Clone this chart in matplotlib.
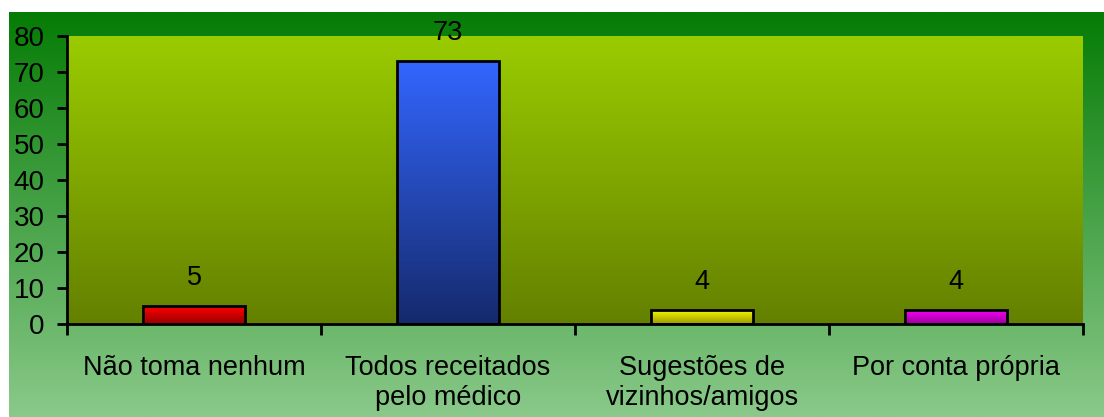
import numpy as np
import matplotlib
matplotlib.use("Agg")
import matplotlib.pyplot as plt
from matplotlib.colors import LinearSegmentedColormap

plt.rcParams['font.family'] = ['Liberation Sans', 'DejaVu Sans']

categories = ["Não toma nenhum", "Todos receitados\npelo médico",
              "Sugestões de\nvizinhos/amigos", "Por conta própria"]
values = [5, 73, 4, 4]
# (top colour, bottom colour) for each bar
bar_colors = [("#ff0000", "#990000"), ("#3366ff", "#152a6c"),
              ("#ffff00", "#999900"), ("#ff00ff", "#990099")]
yticks = [0, 10, 20, 30, 40, 50, 60, 70, 80]

W, H = 1104, 417
fig = plt.figure(figsize=(W / 100, H / 100), dpi=100)
fig.patch.set_facecolor("white")

def vgrad(top, bottom):
    return LinearSegmentedColormap.from_list("g", [bottom, top])

grad = np.linspace(0, 1, 256).reshape(-1, 1)

# green page background
bg = fig.add_axes([9 / W, 0, 1 - 9 / W, (H - 12) / H])
bg.imshow(grad, aspect="auto", cmap=vgrad("#057c05", "#8ac98a"),
          origin="lower", extent=[0, 1, 0, 1])
bg.set_axis_off()

# plot area
x0, x1, y0, y1 = 67, 1083, 36, 324
ax = fig.add_axes([x0 / W, 1 - y1 / H, (x1 - x0) / W, (y1 - y0) / H])
ax.imshow(grad, aspect="auto", cmap=vgrad("#9acc00", "#648000"),
          origin="lower", extent=[0, 1, 0, 1], transform=ax.transAxes,
          zorder=0)

x = np.arange(len(categories))
bars = ax.bar(x, values, width=0.4, facecolor="none", edgecolor="black",
              linewidth=2, zorder=3)
for b, (top, bot) in zip(bars, bar_colors):
    bx, bw, bh = b.get_x(), b.get_width(), b.get_height()
    im = ax.imshow(grad, aspect="auto", cmap=vgrad(top, bot), origin="lower",
                   extent=[bx, bx + bw, 0, bh], zorder=2)
    im.set_clip_path(b)
    ax.text(bx + bw / 2, bh + 7.8, str(int(bh)), ha="center", va="center",
            fontsize=19.5, color="black", zorder=4)

ax.set_xlim(-0.5, len(categories) - 0.5)
ax.set_ylim(0, 80)
ax.set_yticks(yticks)
ax.tick_params(axis="y", direction="out", length=7, width=2,
               labelsize=20, pad=9)
ax.set_xticks(np.arange(-0.5, len(categories), 1.0))
ax.set_xticklabels([])
ax.set_xticks(x, minor=True)
ax.set_xticklabels(categories, minor=True, fontsize=19.5, linespacing=1.2)
ax.tick_params(axis="x", which="major", direction="out", length=8, width=2)
ax.tick_params(axis="x", which="minor", length=0, pad=22)
for lbl in ax.get_xticklabels(minor=True):
    lbl.set_verticalalignment("top")

for s in ["top", "right"]:
    ax.spines[s].set_visible(False)
for s in ["left", "bottom"]:
    ax.spines[s].set_linewidth(2)

fig.savefig("out.png", dpi=100)
